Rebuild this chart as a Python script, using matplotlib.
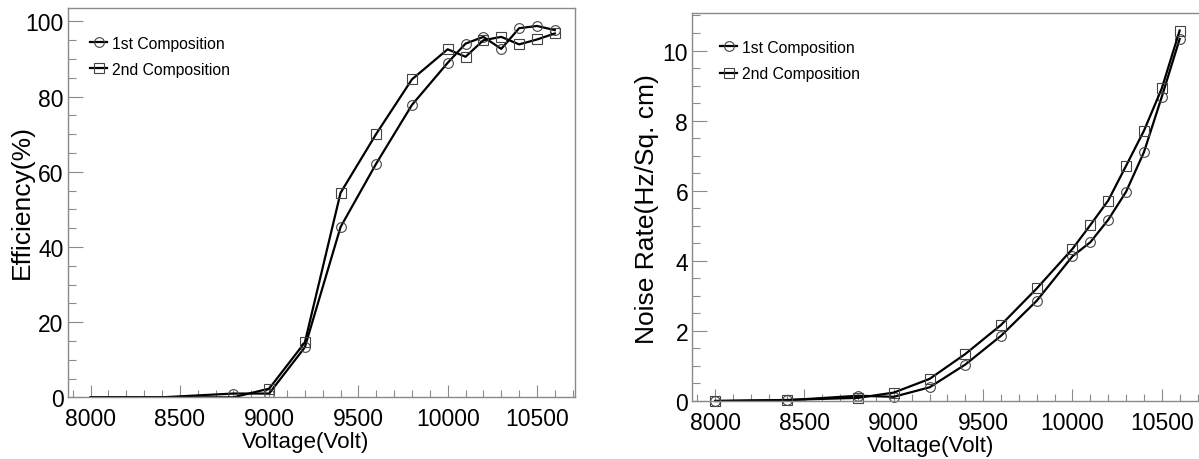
import matplotlib
matplotlib.use("Agg")
import matplotlib.pyplot as plt
from matplotlib.ticker import MultipleLocator
from matplotlib import font_manager as fm
import numpy as np

# ---- data ----
voltage = [8000, 8400, 8800, 9000, 9200, 9400, 9600, 9800, 10000, 10100, 10200, 10300, 10400, 10500, 10600]
eff_1st = [0.0, 0.0, 1.0, 1.0, 13.3, 45.3, 62.2, 77.8, 89.0, 94.1, 95.9, 92.7, 98.2, 98.8, 97.7]
eff_2nd = [0.0, 0.0, 0.0, 2.3, 14.6, 54.4, 70.1, 84.6, 92.6, 90.6, 95.0, 95.9, 93.9, 95.2, 96.8]
noise_1st = [0.0, 0.02, 0.15, 0.12, 0.39, 1.04, 1.86, 2.86, 4.13, 4.53, 5.17, 5.97, 7.10, 8.68, 10.33]
noise_2nd = [0.0, 0.03, 0.09, 0.24, 0.63, 1.34, 2.17, 3.21, 4.34, 5.02, 5.72, 6.71, 7.71, 8.92, 10.57]
series_labels = ["1st Composition", "2nd Composition"]
xlabel = "Voltage(Volt)"
ylabel_left = "Efficiency(%)"
ylabel_right = "Noise Rate(Hz/Sq. cm)"

# ---- fonts ----
def has_font(name):
    try:
        fm.findfont(fm.FontProperties(family=name), fallback_to_default=False)
        return True
    except Exception:
        return False

REG = "Liberation Sans" if has_font("Liberation Sans") else "DejaVu Sans"
NARROW = "Liberation Sans Narrow" if has_font("Liberation Sans Narrow") else REG
narrow_scale = 1.0 if NARROW != REG else 0.85

W, H = 1199, 460
fig = plt.figure(figsize=(W / 100, H / 100), dpi=100)

def px_ax(x0, x1, ytop, ybot):
    return [x0 / W, 1 - ybot / H, (x1 - x0) / W, (ybot - ytop) / H]

FRAME = "#8a8a8a"
MK_EDGE = "#444444"

def style_axes(ax, ymajor, yminor):
    for s in ax.spines.values():
        s.set_color(FRAME)
        s.set_linewidth(1.0)
    ax.xaxis.set_major_locator(MultipleLocator(500))
    ax.xaxis.set_minor_locator(MultipleLocator(100))
    ax.yaxis.set_major_locator(MultipleLocator(ymajor))
    ax.yaxis.set_minor_locator(MultipleLocator(yminor))
    ax.tick_params(axis="both", which="both", direction="in", color=FRAME, width=0.8,
                   top=False, right=False)
    ax.tick_params(axis="x", which="major", length=9, pad=7.0)
    ax.tick_params(axis="x", which="minor", length=5)
    ax.tick_params(axis="y", which="major", length=11, pad=3)
    ax.tick_params(axis="y", which="minor", length=5.5)
    for lab in ax.get_xticklabels() + ax.get_yticklabels():
        lab.set_fontfamily(REG)
        lab.set_fontsize(16.5)
        lab.set_color("black")

def add_legend(ax, handles, anchor_px):
    leg = ax.legend(handles, series_labels, loc="upper left",
                    bbox_to_anchor=(anchor_px[0] / W, 1 - anchor_px[1] / H),
                    bbox_transform=fig.transFigure, frameon=False,
                    borderpad=0, borderaxespad=0, handlelength=1.08,
                    handletextpad=0.32, labelspacing=0.7, numpoints=1,
                    prop={"family": NARROW, "size": 13.4 * narrow_scale})
    return leg

line_kw = dict(color="black", lw=1.6, markersize=7, markerfacecolor="none",
               markeredgecolor=MK_EDGE, markeredgewidth=0.8)

# ---- left: efficiency ----
ax1 = fig.add_axes(px_ax(67.7, 575, 9.3, 398.3))
mask1 = [i for i, v in enumerate(eff_1st) if v > 0]
mask2 = [i for i, v in enumerate(eff_2nd) if v > 0]
ax1.plot(voltage, eff_1st, marker="o", markevery=mask1, **line_kw)
ax1.plot(voltage, eff_2nd, marker="s", markevery=mask2, **line_kw)
ax1.set_xlim(7872, 10713)
ax1.set_ylim(0, 103.5)
style_axes(ax1, 20, 5)
lh1, = ax1.plot([], [], marker="o", **line_kw)
lh2, = ax1.plot([], [], marker="s", **line_kw)
add_legend(ax1, [lh1, lh2], (90, 36.5))

# ---- right: noise rate ----
ax2 = fig.add_axes(px_ax(692.3, 1202, 14, 402))
ax2.plot(voltage, noise_1st, marker="o", clip_on=False, **line_kw)
ax2.plot(voltage, noise_2nd, marker="s", clip_on=False, **line_kw)
ax2.set_xlim(7872, 10725)
ax2.set_ylim(0, 11.07)
style_axes(ax2, 2, 0.5)
lh3, = ax2.plot([], [], marker="o", **line_kw)
lh4, = ax2.plot([], [], marker="s", **line_kw)
add_legend(ax2, [lh3, lh4], (720.3, 41.0))

# ---- axis titles ----
fig.text(305.6 / W, 1 - 448.3 / H, xlabel, ha="center", va="baseline",
         fontfamily=NARROW, fontsize=19 * narrow_scale)
fig.text(930.7 / W, 1 - 451.7 / H, xlabel, ha="center", va="baseline",
         fontfamily=NARROW, fontsize=19 * narrow_scale)
fig.text(22 / W, 1 - 201.7 / H, ylabel_left, ha="center", va="center", rotation=90,
         fontfamily=REG, fontsize=19)
fig.text(647 / W, 1 - 209 / H, ylabel_right, ha="center", va="center", rotation=90,
         fontfamily=REG, fontsize=19)

fig.savefig("out.png", dpi=100, facecolor="white")
